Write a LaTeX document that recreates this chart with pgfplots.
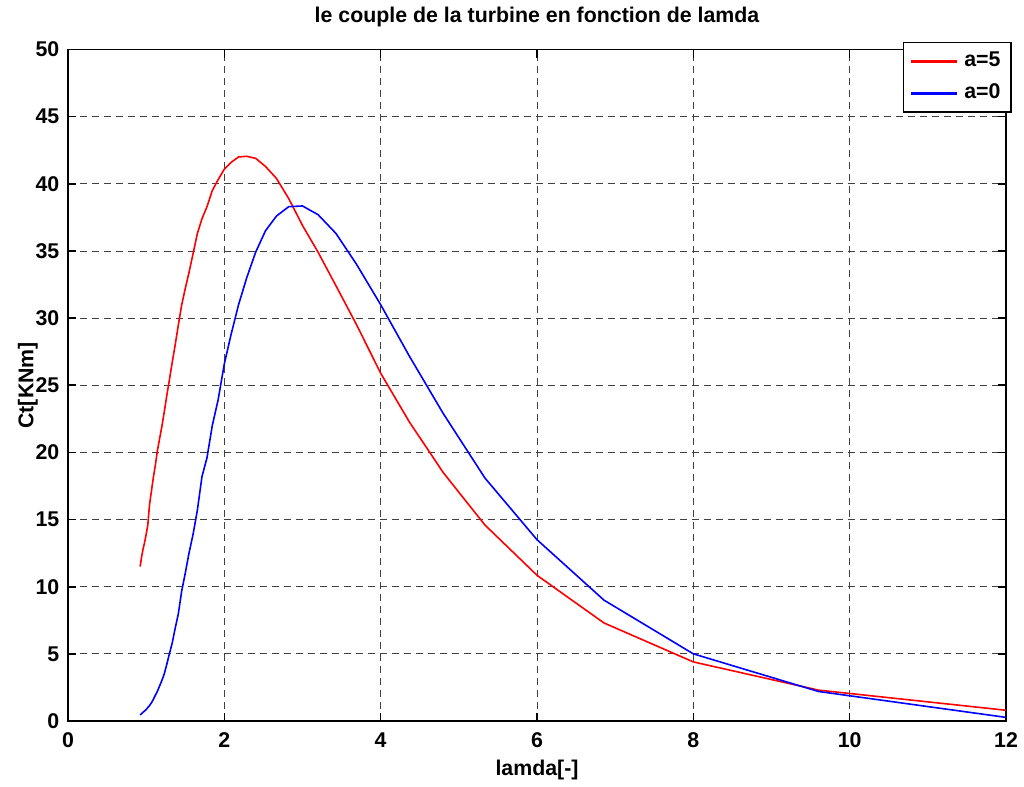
\documentclass[border=0pt]{standalone}
\usepackage{fontspec}
\setmainfont{Liberation Sans}
\usepackage{pgfplots}
\usepackage{pgfplotstable}
\pgfplotsset{compat=1.18}
\pgfplotstableread{
x y
0.923 11.5
0.941 12.2
0.960 12.8
0.980 13.3
1.000 13.9
1.021 14.6
1.043 16.1
1.067 17.1
1.091 18.1
1.116 19.0
1.143 20.1
1.171 21.0
1.200 21.9
1.231 23.0
1.263 24.2
1.297 25.4
1.333 26.7
1.371 28.0
1.412 29.5
1.455 31.0
1.500 32.2
1.548 33.4
1.600 34.8
1.655 36.3
1.714 37.4
1.778 38.3
1.846 39.5
1.920 40.3
2.000 41.1
2.087 41.6
2.182 42.0
2.286 42.05
2.400 41.9
2.526 41.3
2.667 40.4
2.824 38.9
3.000 36.9
3.200 34.9
3.429 32.4
3.692 29.5
4.000 25.9
4.364 22.3
4.800 18.5
5.333 14.6
6.000 10.85
6.857 7.3
8.000 4.4
9.600 2.3
12.000 0.8
}\redtab
\pgfplotstableread{
x y
0.923 0.45
0.941 0.55
0.960 0.65
0.980 0.75
1.000 0.85
1.021 1.0
1.043 1.15
1.067 1.35
1.091 1.6
1.116 1.9
1.143 2.2
1.171 2.6
1.200 3.0
1.231 3.5
1.263 4.2
1.297 5.0
1.333 5.8
1.371 6.9
1.412 8.0
1.455 9.7
1.500 11.0
1.548 12.5
1.600 13.9
1.655 15.7
1.714 18.2
1.778 19.6
1.846 22.0
1.920 23.9
2.000 26.6
2.087 28.8
2.182 31.0
2.286 33.0
2.400 34.9
2.526 36.5
2.667 37.6
2.824 38.3
3.000 38.35
3.200 37.7
3.429 36.3
3.692 34.0
4.000 31.0
4.364 27.2
4.800 22.9
5.333 18.1
6.000 13.5
6.857 9.0
8.000 5.0
9.600 2.2
12.000 0.27
}\bluetab
\begin{document}
\begin{tikzpicture}
\fontsize{16}{18}\selectfont\bfseries
\begin{axis}[
  at={(0,0)}, anchor=south west,
  scale only axis,
  width=703.5pt, height=503.6pt,
  xmin=0, xmax=12, ymin=0, ymax=50,
  xtick={0,2,...,12}, ytick={0,5,...,50},
  /pgf/number format/assume math mode=true,
  tick label style={font=\fontsize{16}{18}\selectfont\bfseries},
  xticklabel style={anchor=base, yshift=-20pt},
  yticklabel style={anchor=east, xshift=-1pt},
  axis line style={line width=1.2pt},
  tick style={black, line width=1.2pt},
  major tick length=6pt,
  tick align=inside,
  grid=major,
  major grid style={black!75, line width=0.7pt, dash pattern=on 5.5pt off 3.5pt},
  title={le couple de la turbine en fonction de lamda},
  title style={at={(0.5,1)}, anchor=base, yshift=14pt, font=\fontsize{16}{18}\selectfont\bfseries},
  xlabel={lamda[-]},
  xlabel style={at={(0.5,0)}, anchor=base, yshift=-41pt, font=\fontsize{16}{18}\selectfont\bfseries},
  ylabel={Ct[KNm]},
  every axis y label/.style={at={(-0.037,0.5)}, rotate=90, anchor=base, font=\fontsize{16}{18}\selectfont\bfseries},
  legend style={at={(1.0064,1.0116)}, anchor=north east, draw=black, line width=1.2pt,
    fill=white, font=\fontsize{16}{18}\selectfont\bfseries,
    inner xsep=6pt, inner ysep=3pt, row sep=2pt,
    nodes={inner sep=2pt, text height=13pt, text depth=5pt}},
  legend cell align=left,
  legend image code/.code={\fill[#1] (1.5pt,-0.6pt) rectangle (34.5pt,0.6pt); \path (38pt,0pt);},
]
\addplot[color=red, line width=1.2pt] table[x=x,y=y] {\redtab};
\addlegendentry{a=5}
\addplot[color=blue, line width=1.2pt] table[x=x,y=y] {\bluetab};
\addlegendentry{a=0}
\end{axis}
\pgfresetboundingbox
\path[use as bounding box] (-51pt,-48.75pt) rectangle (717pt,540.75pt);
\end{tikzpicture}
\end{document}
